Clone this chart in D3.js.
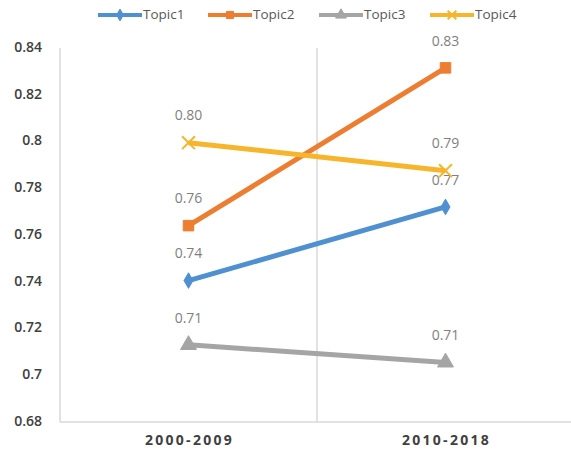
<html>
<head>
<meta charset="UTF-8" />
<script src="https://d3js.org/d3.v7.min.js"></script>
<style>body{margin:0;background:#fff;}</style>
</head>
<body>
<svg id="chart" width="571" height="455"></svg>
<script>
const periods = ["2000-2009", "2010-2018"];
const topicNames = ["Topic1", "Topic2", "Topic3", "Topic4"];
const topic1 = [0.7405, 0.772];
const topic2 = [0.764, 0.8315];
const topic3 = [0.713, 0.7055];
const topic4 = [0.7995, 0.7875];
const yTicks = [0.68, 0.7, 0.72, 0.74, 0.76, 0.78, 0.8, 0.82, 0.84];

const colors = ["#4f90d1", "#ed7d31", "#a5a5a5", "#f6b52a"];
const shapes = [d3.symbolDiamond, d3.symbolSquare, d3.symbolTriangle, d3.symbolX];
const series = [topic1, topic2, topic3, topic4];

let svg = d3.select("svg#chart");
const margin = {top: 48, right: 0, bottom: 33, left: 60};
const width = 574, height = 455;

const x = d3.scaleBand().domain(periods).range([margin.left, width - margin.right]);
const y = d3.scaleLinear().domain([0.68, 0.84]).range([height - margin.bottom, margin.top]);

// axis lines
svg.append("line")
   .attr("x1", margin.left).attr("x2", margin.left)
   .attr("y1", y(0.84)).attr("y2", y(0.68))
   .style("stroke", "#d9d9d9").style("stroke-width", 1.5);
svg.append("line")
   .attr("x1", margin.left).attr("x2", 571)
   .attr("y1", y(0.68)).attr("y2", y(0.68))
   .style("stroke", "#d9d9d9").style("stroke-width", 1.5);
svg.append("line")
   .attr("x1", x(periods[1])).attr("x2", x(periods[1]))
   .attr("y1", y(0.84)).attr("y2", y(0.68))
   .style("stroke", "#d9d9d9").style("stroke-width", 1.5);

// y tick labels
yTicks.forEach(t => {
    svg.append("text")
       .attr("x", 42).attr("y", y(t))
       .attr("text-anchor", "end").attr("dominant-baseline", "middle")
       .attr("font-family", "Open Sans").attr("font-size", "14px")
       .attr("font-weight", "600").attr("fill", "#404040")
       .text(d3.format("")(t));
});

// x labels
periods.forEach(p => {
    svg.append("text")
       .attr("x", x(p) + x.bandwidth() / 2 + 1).attr("y", 441)
       .attr("text-anchor", "middle").attr("dominant-baseline", "middle")
       .attr("font-family", "Open Sans").attr("font-size", "14px")
       .attr("font-weight", "700").attr("letter-spacing", "2.3px")
       .attr("fill", "#404040")
       .text(p);
});

const cx = p => x(p) + x.bandwidth() / 2;
const line = d3.line().x((d, i) => cx(periods[i])).y(d => y(d));

function marker(g, s, size) {
    let p = g.append("path")
       .attr("d", d3.symbol().type(shapes[s]).size(size)());
    if (s == 3) {
        p.attr("fill", "none").attr("stroke", colors[s]).attr("stroke-width", 2);
    } else {
        p.attr("fill", colors[s]).attr("stroke", colors[s]);
    }
    return p;
}

series.forEach((vals, s) => {
    svg.append("path").datum(vals)
       .attr("d", line).attr("fill", "none")
       .attr("stroke", colors[s]).attr("stroke-width", 5);
    vals.forEach((v, i) => {
        marker(svg, s, [70, 110, 110, 110][s])
           .attr("transform", `translate(${cx(periods[i])},${y(v)})`);
        svg.append("text")
           .attr("x", cx(periods[i])).attr("y", y(v) - 26)
           .attr("text-anchor", "middle").attr("dominant-baseline", "middle")
           .attr("font-family", "Open Sans").attr("font-size", "14px")
           .attr("fill", "#7f7f7f")
           .text(v.toFixed(2));
    });
});

// legend
const legendX = [98, 208, 319, 430];
topicNames.forEach((n, s) => {
    let g = svg.append("g").attr("transform", `translate(${legendX[s]},15)`);
    g.append("line").attr("x1", 0).attr("x2", 44).attr("y1", 0).attr("y2", 0)
     .attr("stroke", colors[s]).attr("stroke-width", 4);
    marker(g, s, [40, 50, 50, 50][s]).attr("transform", "translate(22,0)");
    g.append("text").attr("x", 45).attr("y", 0)
     .attr("dominant-baseline", "middle")
     .attr("font-family", "Open Sans").attr("font-size", "13.5px")
     .attr("fill", "#595959")
     .text(n);
});
</script>
</body>
</html>
